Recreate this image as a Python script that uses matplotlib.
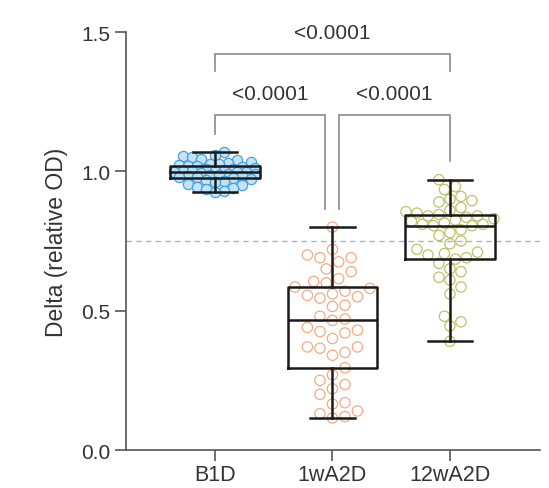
import numpy as np
import matplotlib
matplotlib.use("Agg")
import matplotlib.pyplot as plt

# ---- data -------------------------------------------------------------
groups = ["B1D", "1wA2D", "12wA2D"]

b1d = [1.068, 1.060, 1.055, 1.050, 1.045, 1.040, 1.035, 1.030, 1.028, 1.025,
       1.022, 1.020, 1.018, 1.015, 1.012, 1.010, 1.007, 1.005, 1.003, 1.000,
       1.000, 0.999, 0.998, 0.996, 0.994, 0.992, 0.990, 0.988, 0.986, 0.984,
       0.982, 0.980, 0.978, 0.975, 0.972, 0.968, 0.964, 0.960, 0.955, 0.950,
       0.945, 0.940, 0.935, 0.930, 0.925]

wa2d_1 = [0.800, 0.720, 0.700, 0.690, 0.690, 0.675, 0.650, 0.640, 0.615, 0.605,
          0.600, 0.585, 0.580, 0.570, 0.560, 0.555, 0.550, 0.545, 0.520, 0.515,
          0.480, 0.470, 0.465, 0.440, 0.430, 0.425, 0.420, 0.400, 0.370, 0.370,
          0.365, 0.350, 0.340, 0.295, 0.270, 0.250, 0.235, 0.220, 0.200, 0.170,
          0.165, 0.140, 0.130, 0.120, 0.115]

wa2d_12 = [0.970, 0.945, 0.935, 0.910, 0.900, 0.895, 0.890, 0.870, 0.860, 0.855,
           0.850, 0.845, 0.840, 0.840, 0.835, 0.830, 0.825, 0.820, 0.815, 0.810,
           0.810, 0.805, 0.805, 0.790, 0.780, 0.770, 0.750, 0.740, 0.720, 0.710,
           0.705, 0.700, 0.690, 0.685, 0.670, 0.650, 0.640, 0.620, 0.610, 0.585,
           0.560, 0.480, 0.460, 0.445, 0.390]

cutoff = 0.75
p_labels = ["<0.0001", "<0.0001", "<0.0001"]   # B1D-1wA2D, 1wA2D-12wA2D, B1D-12wA2D
yticks = [0.0, 0.5, 1.0, 1.5]
ytick_labels = ["0.0", "0.5", "1.0", "1.5"]

edge_colors = ["#3a9ad9", "#f2a273", "#b3bd5c"]
face_colors = ["#bfe0f5", "none", "none"]

# ---- figure -----------------------------------------------------------
plt.rcParams["font.family"] = ["Liberation Sans", "DejaVu Sans"]
fig = plt.figure(figsize=(5.49, 4.89), dpi=100)
ax = fig.add_axes([0.2295, 0.0777, 0.754, 0.8548])

positions = np.arange(len(groups))
ax.set_xlim(-0.757, 2.766)
ax.set_ylim(0, 1.5)

datasets = [b1d, wa2d_1, wa2d_12]


def swarm_x(ax, x0, values, diam_px, max_half_px):
    """Beeswarm placement in pixel space, limited to a maximum half width."""
    trans = ax.transData
    pts = trans.transform(np.column_stack([np.full(len(values), x0),
                                           np.asarray(values, float)]))
    xc = pts[0, 0]
    ys = pts[:, 1]
    step = diam_px / 2.0
    nsteps = int(max_half_px // step)
    cands = [0.0]
    for k in range(1, nsteps + 1):
        cands += [k * step, -k * step]
    placed = []
    xs_px = np.zeros(len(values))
    for i in np.argsort(ys):
        y = ys[i]
        best, best_d = None, -1.0
        for c in cands:
            if placed:
                arr = np.array(placed)
                d = np.min(np.hypot(arr[:, 0] - c, arr[:, 1] - y))
            else:
                d = np.inf
            if d >= diam_px:
                best = c
                break
            if d > best_d:
                best_d, best = d, c
        placed.append((best, y))
        xs_px[i] = xc + best
    inv = trans.inverted()
    return inv.transform(np.column_stack([xs_px, ys]))[:, 0]


# dashed reference line
ax.axhline(cutoff, color="#aab4c6", lw=1.0, ls=(0, (4, 3)), zorder=1)

# points
swarm_diams = [9.0, 12.5, 11.0]
for pos, vals, ec, fc, dm in zip(positions, datasets, edge_colors,
                                 face_colors, swarm_diams):
    xs = swarm_x(ax, pos, vals, diam_px=dm, max_half_px=44)
    ax.scatter(xs, vals, s=55, facecolors=fc, edgecolors=ec,
               linewidths=0.9, alpha=0.9, zorder=2)

# box plots, whiskers from min to max
box_style = dict(color="#1a1a1a", linewidth=1.8)
ax.boxplot(datasets, positions=positions, widths=0.76, whis=(0, 100),
           showfliers=False, patch_artist=False, capwidths=0.38,
           boxprops=box_style, whiskerprops=box_style, capprops=box_style,
           medianprops=box_style, zorder=3)

# significance brackets
bracket_color = "#8a8a8a"
text_color = "#333333"


def bracket(x1, x2, y, y_left, y_right, label):
    ax.plot([x1, x1, x2, x2], [y_left, y, y, y_right], color=bracket_color,
            lw=1.2, clip_on=False, zorder=4, solid_joinstyle="miter")
    ax.text((x1 + x2) / 2, y + 0.045, label, ha="center", va="bottom",
            fontsize=15, color=text_color, clip_on=False)


bracket(0.0, 0.94, 1.202, 1.134, 0.865, p_labels[0])
bracket(1.06, 2.0, 1.202, 0.865, 1.037, p_labels[1])
bracket(0.0, 2.0, 1.42, 1.36, 1.36, p_labels[2])

# axes styling
for side in ("top", "right"):
    ax.spines[side].set_visible(False)
for side in ("left", "bottom"):
    ax.spines[side].set_color("#555555")
    ax.spines[side].set_linewidth(1.2)

ax.set_yticks(yticks)
ax.set_yticklabels(ytick_labels)
ax.set_xticks(positions)
ax.set_xticklabels(groups)
ax.tick_params(axis="y", length=8, width=1.2, color="#555555",
               labelsize=15, labelcolor="#333333", pad=3)
ax.tick_params(axis="x", length=8, width=1.2, color="#555555",
               labelsize=15.5, labelcolor="#333333", pad=2)
ax.set_ylabel("Delta (relative OD)", fontsize=16.5, color="#333333", labelpad=10)

fig.savefig("out.png", dpi=100)
